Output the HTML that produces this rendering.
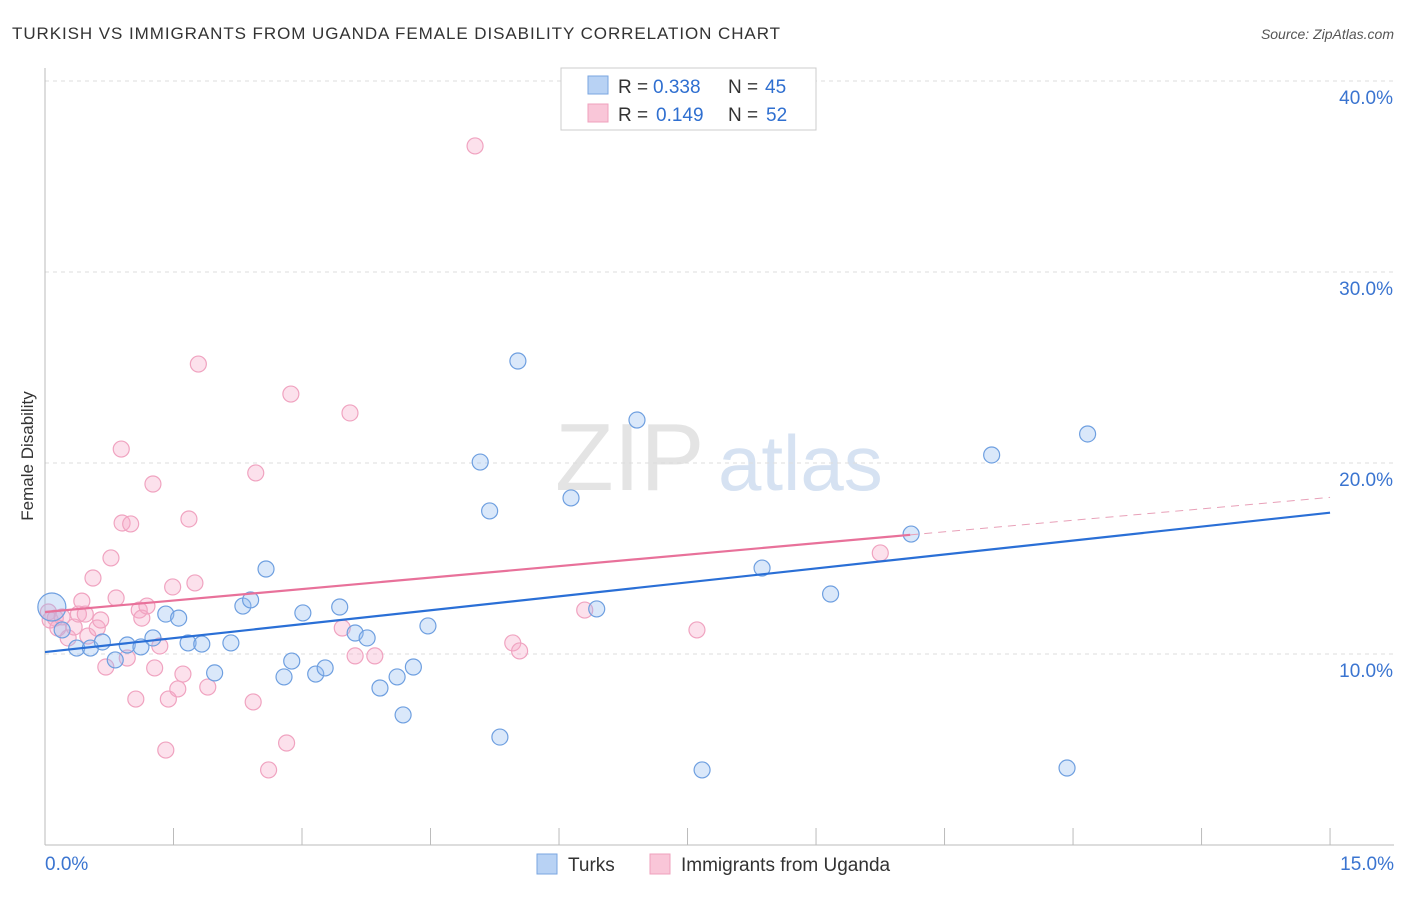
<!DOCTYPE html>
<html><head><meta charset="utf-8"><style>
body{margin:0;background:#fff;font-family:"Liberation Sans",sans-serif;}
svg text{font-family:"Liberation Sans",sans-serif;}
</style></head><body>
<svg id="chart" width="1406" height="892" xmlns="http://www.w3.org/2000/svg">
<text x="12" y="39" font-size="17" fill="#333" textLength="768">TURKISH VS IMMIGRANTS FROM UGANDA FEMALE DISABILITY CORRELATION CHART</text>
<text x="1394" y="39" font-size="14" fill="#555" text-anchor="end" font-style="italic">Source: ZipAtlas.com</text>
<text x="33" y="456" font-size="17" fill="#333" text-anchor="middle" transform="rotate(-90 33 456)">Female Disability</text>
<text x="555" y="490" font-size="96" fill="#e4e4e4" font-family="Liberation Serif">ZIP</text>
<text x="718" y="490" font-size="78" fill="#d6e2f2">atlas</text>
<g id="grid"></g><g id="axes"></g><g id="pts"></g><g id="lines"></g>
<g>
<rect x="561" y="68" width="255" height="62" fill="#fff" stroke="#ccc"/>
<rect x="588" y="76" width="20" height="18" fill="#b8d2f4" stroke="#7aa6e0"/>
<rect x="588" y="104" width="20" height="18" fill="#f9c6d8" stroke="#efa0bd"/>
<text x="618" y="93" font-size="19" fill="#333">R =</text>
<text x="653" y="93" font-size="19" fill="#2f6fd0">0.338</text>
<text x="728" y="93" font-size="19" fill="#333">N =</text>
<text x="765" y="93" font-size="19" fill="#2f6fd0">45</text>
<text x="618" y="121" font-size="19" fill="#333">R =</text>
<text x="656" y="121" font-size="19" fill="#2f6fd0">0.149</text>
<text x="728" y="121" font-size="19" fill="#333">N =</text>
<text x="766" y="121" font-size="19" fill="#2f6fd0">52</text>
</g>
<g>
<rect x="537" y="854" width="20" height="20" fill="#b8d2f4" stroke="#7aa6e0"/>
<text x="568" y="871" font-size="19" fill="#333">Turks</text>
<rect x="650" y="854" width="20" height="20" fill="#f9c6d8" stroke="#efa0bd"/>
<text x="681" y="871" font-size="19" fill="#333">Immigrants from Uganda</text>
</g>
</svg>
<script>
const blueX=[0.08,0.20,0.37,0.53,0.67,0.82,0.96,1.12,1.26,1.41,1.56,1.67,1.83,1.98,2.17,2.31,2.40,2.58,2.79,2.88,3.01,3.16,3.27,3.44,3.62,3.76,3.91,4.11,4.18,4.30,4.47,5.08,5.19,5.31,5.52,6.14,6.44,6.91,7.67,8.37,9.17,10.11,11.05,11.93,12.17];
const blueY=[12.46,11.26,10.31,10.31,10.63,9.69,10.47,10.37,10.84,12.09,11.88,10.58,10.52,9.01,10.58,12.51,12.83,14.45,8.80,9.63,12.15,8.95,9.27,12.46,11.10,10.84,8.22,8.80,6.81,9.32,11.47,20.05,17.49,5.65,25.34,18.17,12.36,22.25,3.93,14.50,13.14,16.28,20.42,4.03,21.52];
const pinkX=[0.04,0.06,0.12,0.15,0.20,0.27,0.34,0.39,0.43,0.47,0.50,0.56,0.61,0.65,0.71,0.77,0.83,0.89,0.90,0.96,1.00,1.06,1.10,1.13,1.19,1.26,1.28,1.34,1.41,1.44,1.49,1.55,1.61,1.68,1.75,1.79,1.90,2.43,2.46,2.61,2.82,2.87,3.47,3.56,3.62,3.85,5.02,5.46,5.54,6.30,7.61,9.75];
const pinkY=[12.20,11.78,11.88,11.36,11.94,10.84,11.41,12.09,12.77,12.09,10.94,13.98,11.36,11.78,9.32,15.03,12.93,20.73,16.86,9.79,16.81,7.64,12.30,11.88,12.51,18.90,9.27,10.42,4.97,7.64,13.51,8.17,8.95,17.07,13.72,25.18,8.27,7.49,19.48,3.93,5.34,23.61,11.36,22.62,9.90,9.90,36.60,10.58,10.16,12.30,11.26,15.29];
const blueTrend=[10.1,17.4];
const pinkTrend=[12.2,18.2];
const pinkSolidEnd=10.1;
const yTicks=[10,20,30,40];
const xTickLabels=["0.0%","15.0%"];
const NS="http://www.w3.org/2000/svg";
const sx=v=>45+v*85.67, sy=v=>845-v*19.1;
function mk(p,t,a){const e=document.createElementNS(NS,t);for(const k in a)e.setAttribute(k,a[k]);document.getElementById(p).appendChild(e);return e;}
yTicks.forEach(t=>{
 const g=mk('grid','line',{x1:45,x2:1394,y1:sy(t),y2:sy(t),stroke:'#ddd','stroke-dasharray':'4,4'});
 
 
 const l=mk('axes','text',{x:1393,y:sy(t)+23,'font-size':19,fill:'#3a74d0','text-anchor':'end'});l.textContent=t.toFixed(1)+'%';
 
 
});
mk('axes','line',{x1:45,x2:45,y1:68,y2:845,stroke:'#bbb'});
mk('axes','line',{x1:45,x2:1394,y1:845,y2:845,stroke:'#bbb'});
for(let i=0;i<=10;i++){const x=sx(i*1.5);mk('axes','line',{x1:x,x2:x,y1:828,y2:845,stroke:'#bbb'});}
const xl0=mk('axes','text',{x:45,y:870,'font-size':19,fill:'#3a74d0'});xl0.textContent=xTickLabels[0];


const xl1=mk('axes','text',{x:1394,y:870,'font-size':19,fill:'#3a74d0','text-anchor':'end'});xl1.textContent=xTickLabels[1];


pinkX.forEach((x,i)=>{const c=mk('pts','circle',{cx:sx(x),cy:sy(pinkY[i]),r:8,fill:'rgba(245,170,200,0.35)',stroke:'#f0a3c0','stroke-width':1.2});
 
 });
blueX.forEach((x,i)=>{const c=mk('pts','circle',{cx:sx(x),cy:sy(blueY[i]),r:i==0?14:8,fill:'rgba(150,190,240,0.35)',stroke:'#6e9fe0','stroke-width':1.2});
 
 });
const bl=mk('lines','line',{x1:sx(0),y1:sy(blueTrend[0]),x2:sx(15),y2:sy(blueTrend[1]),stroke:'#2a6fd6','stroke-width':2.2});


const pm=v=>pinkTrend[0]+(pinkTrend[1]-pinkTrend[0])*v/15;
const pl=mk('lines','line',{x1:sx(0),y1:sy(pinkTrend[0]),x2:sx(pinkSolidEnd),y2:sy(pm(pinkSolidEnd)),stroke:'#e8719a','stroke-width':2.2});


const pd=mk('lines','line',{x1:sx(pinkSolidEnd),y1:sy(pm(pinkSolidEnd)),x2:sx(15),y2:sy(pinkTrend[1]),stroke:'#e8a0b8','stroke-width':1,'stroke-dasharray':'8,6'});


</script>
</body></html>
